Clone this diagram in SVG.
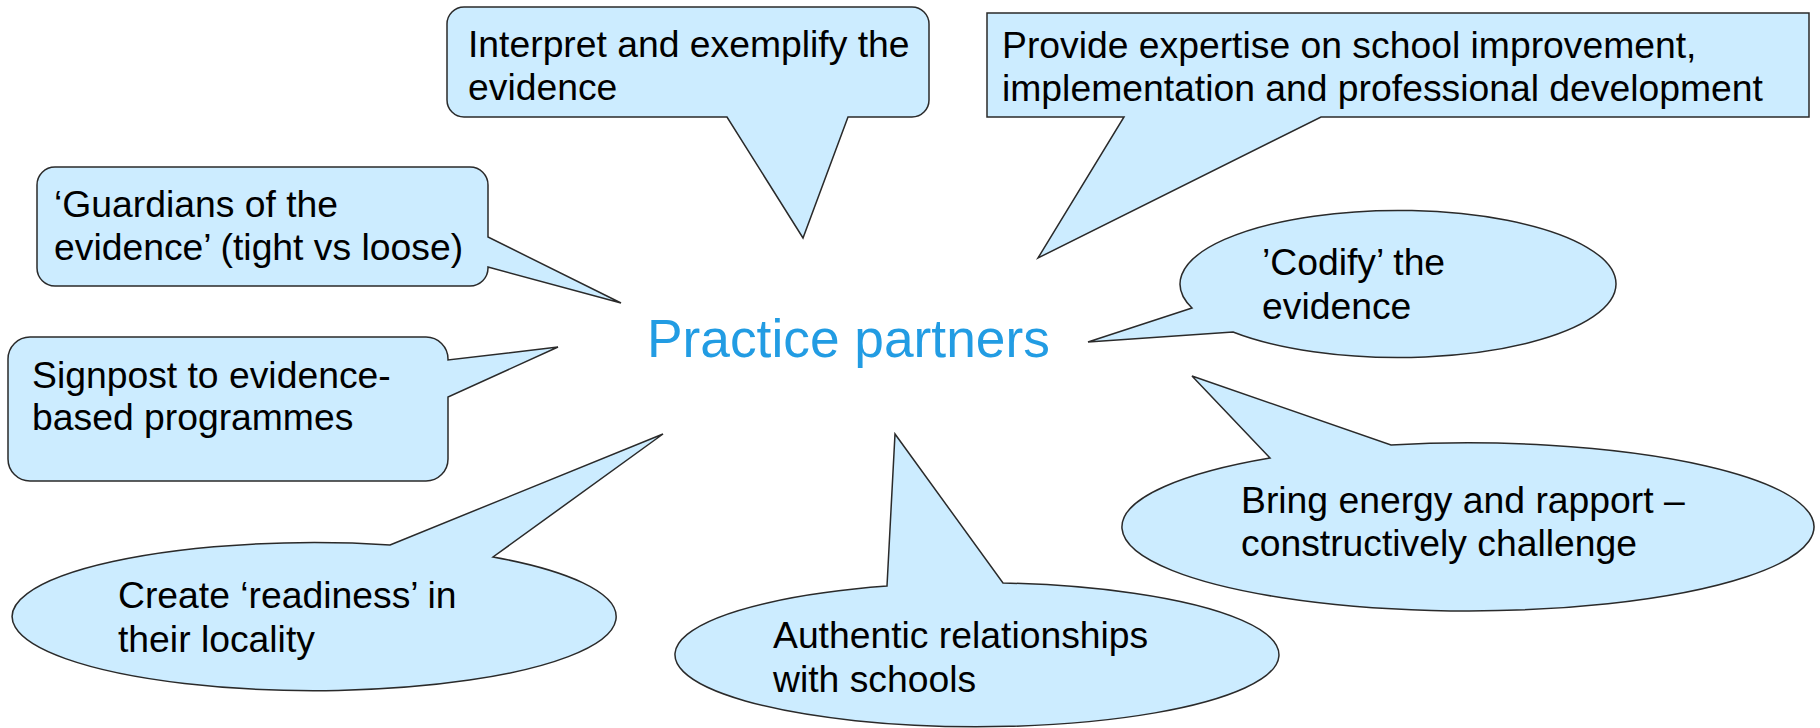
<svg xmlns="http://www.w3.org/2000/svg" width="1820" height="728" viewBox="0 0 1820 728">
<style>
.c{fill:#CCECFF;stroke:#2a2a2a;stroke-width:1.5;stroke-linejoin:miter}
.t{font-family:"Liberation Sans",Arial,sans-serif;font-size:37.3px;fill:#000}
.h{font-family:"Liberation Sans",Arial,sans-serif;font-size:53.3px;fill:#229CE3}
</style>
<rect width="1820" height="728" fill="#fff"/>
<g id="interpret">
<path class="c" d="M464,7 H912 A17,17 0 0 1 929,24 V100 A17,17 0 0 1 912,117 H848 L803,238 L727,117 H464 A17,17 0 0 1 447,100 V24 A17,17 0 0 1 464,7 Z"/>
<text class="t" x="468" y="57">Interpret and exemplify the</text>
<text class="t" x="468" y="100">evidence</text>
</g>
<g id="provide">
<path class="c" d="M987,13 H1809 V117 H1321 L1038,258 L1124,117 H987 Z"/>
<text class="t" x="1002" y="58">Provide expertise on school improvement,</text>
<text class="t" x="1002" y="101">implementation and professional development</text>
</g>
<g id="guardians">
<path class="c" d="M55,167 H470 A18,18 0 0 1 488,185 V237 L621,303 L488,267 V268 A18,18 0 0 1 470,286 H55 A18,18 0 0 1 37,268 V185 A18,18 0 0 1 55,167 Z"/>
<text class="t" x="54" y="217">‘Guardians of the</text>
<text class="t" x="54" y="260">evidence’ (tight vs loose)</text>
</g>
<g id="signpost">
<path class="c" d="M30,337 H426 A22,22 0 0 1 448,359 V360 L558,347 L448,397 V459 A22,22 0 0 1 426,481 H30 A22,22 0 0 1 8,459 V359 A22,22 0 0 1 30,337 Z"/>
<text class="t" x="32" y="388">Signpost to evidence-</text>
<text class="t" x="32" y="430">based programmes</text>
</g>
<g id="codify">
<path class="c" d="M1192,308 L1088,342 L1233,332 A218,73.5 0 1 0 1192,308 Z"/>
<text class="t" x="1262" y="275">’Codify’ the</text>
<text class="t" x="1262" y="319">evidence</text>
</g>
<g id="energy">
<path class="c" d="M1270,458 L1192,376 L1391,445 A346,84 0 1 1 1270,458 Z"/>
<text class="t" x="1241" y="513">Bring energy and rapport –</text>
<text class="t" x="1241" y="556">constructively challenge</text>
</g>
<g id="authentic">
<path class="c" d="M887,586 L895,434 L1003,583 A302,72 0 1 1 887,586 Z"/>
<text class="t" x="773" y="648">Authentic relationships</text>
<text class="t" x="773" y="692">with schools</text>
</g>
<g id="readiness">
<path class="c" d="M390,545 L663,434 L493,557 A302,74 0 1 1 390,545 Z"/>
<text class="t" x="118" y="608">Create ‘readiness’ in</text>
<text class="t" x="118" y="652">their locality</text>
</g>
<g id="center">
<text class="h" x="647" y="357">Practice partners</text>
</g>
<g id="connectors"></g>
</svg>
